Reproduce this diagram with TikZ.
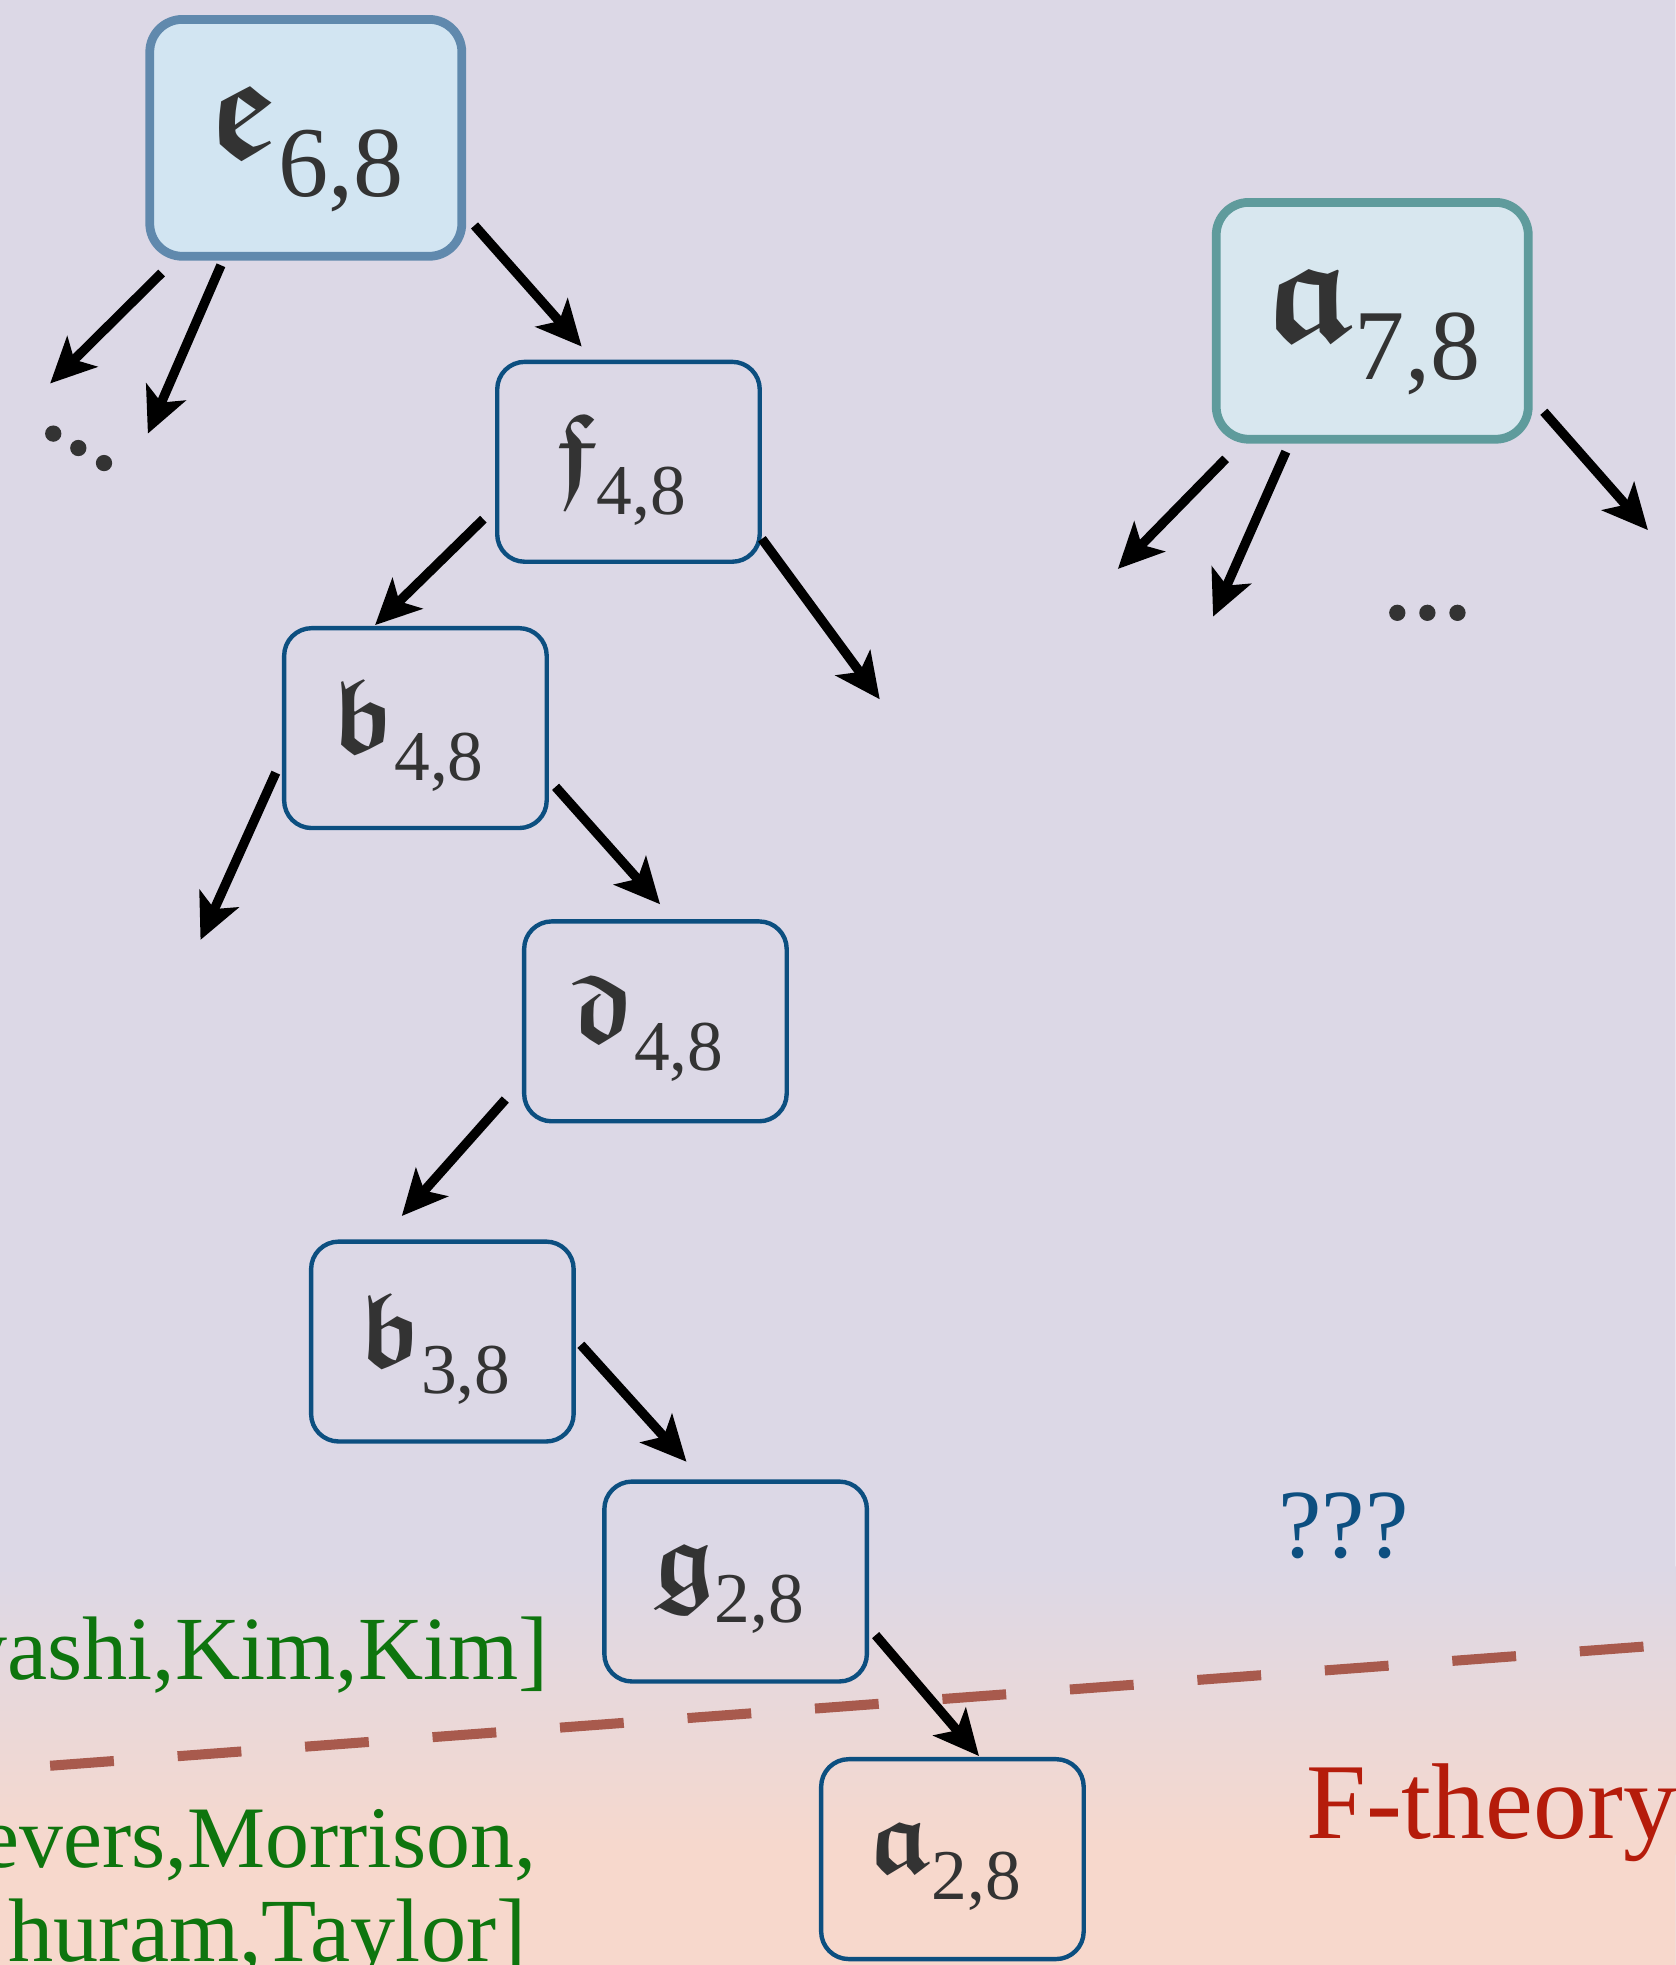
\documentclass[tikz,border=0pt]{standalone}
\usepackage{fontspec}
\setmainfont{Liberation Serif}
\usetikzlibrary{arrows.meta}

% bold Fraktur at any size
\DeclareFontFamily{U}{frkb}{}
\DeclareFontShape{U}{frkb}{m}{n}{<->eufb10}{}
% label = Fraktur letter + lowered index; the whole label is nudged inside its box
\newcommand\frkbig[2]{\raisebox{-9pt}[\height][\depth]{{\fontsize{120}{120}\usefont{U}{frkb}{m}{n}#1}\raisebox{-31pt}{\fontsize{80}{80}\selectfont#2}}}
\newcommand\frksmall[2]{\raisebox{-6pt}[\height][\depth]{\hspace*{-6pt}{\fontsize{84}{84}\usefont{U}{frkb}{m}{n}#1}\raisebox{-22pt}{\fontsize{57}{57}\selectfont#2}\hspace*{6pt}}}

\definecolor{bglav}{HTML}{DCD8E6}
\definecolor{bgpeach}{HTML}{F7D8CC}
\definecolor{topblue}{HTML}{6089AD}
\definecolor{topbluefill}{HTML}{D2E5F2}
\definecolor{topteal}{HTML}{5F9B9C}
\definecolor{toptealfill}{HTML}{D8E7EF}
\definecolor{boxblue}{HTML}{0C4F80}
\definecolor{labelgray}{HTML}{333333}
\definecolor{cutline}{HTML}{A85A4D}
\definecolor{citegreen}{HTML}{0E750E}
\definecolor{ftheory}{HTML}{B51C0B}
\definecolor{qblue}{HTML}{0D4F80}

\begin{document}
\begin{tikzpicture}[x=1pt,y=-1pt,
  bigbox/.style={draw, line width=7pt, rounded corners=26pt,
    minimum width=249pt, minimum height=189pt, text=labelgray, inner sep=0pt},
  smallbox/.style={draw=boxblue, line width=3.5pt, rounded corners=22pt,
    minimum width=209.5pt, minimum height=159.5pt, text=labelgray, inner sep=0pt},
  arr/.style={line width=7.5pt, black,
    -{Stealth[length=36pt, width=34pt, inset=9pt]}},
  dot/.style={fill=labelgray, draw=none, circle, minimum size=13pt, inner sep=0pt},
  cite/.style={text=citegreen, font=\fontsize{72}{76}\selectfont, inner sep=0pt}
]
\path[use as bounding box] (0,0) rectangle (1337,1568);
\clip (0,0) rectangle (1337,1568);

% background
\fill[bglav] (0,0) rectangle (1337,1568);
\shade[top color=bglav, bottom color=bgpeach] (0,1250) rectangle (1337,1480);
\fill[bgpeach] (0,1479) rectangle (1337,1568);

% boundary line
\draw[cutline, line width=8pt, dash pattern=on 51pt off 51pt] (40,1409) -- (1337,1312);

% nodes
\node[bigbox, draw=topblue, fill=topbluefill] (e) at (244,110) {\frkbig{e}{6,8}};
\node[bigbox, draw=topteal, fill=toptealfill] (a7) at (1095,256) {\frkbig{a}{7,8}};
\node[smallbox] (f)  at (501.5,368.5) {\frksmall{f}{4,8}};
\node[smallbox] (b4) at (331.5,581)   {\frksmall{b}{4,8}};
\node[smallbox] (d)  at (523,815)     {\frksmall{d}{4,8}};
\node[smallbox] (b3) at (353,1070.5)  {\frksmall{b}{3,8}};
\node[smallbox] (g)  at (587,1262)    {\frksmall{g}{2,8}};
\node[smallbox] (a2) at (760,1483.5)  {\frksmall{a}{2,8}};

% open ends
\coordinate (eL) at (40,306);
\coordinate (eD) at (118,346);
\coordinate (fR) at (702,558);
\coordinate (bL) at (160,750);
\coordinate (aL) at (892,454);
\coordinate (aD) at (968,492);
\coordinate (aR) at (1315,423);

% arrows
\draw[arr, shorten <=14pt] (e.223) -- (eL);
\draw[arr, shorten <=4pt] (e.236) -- (eD);
\draw[arr, shorten <=10pt, shorten >=14pt] (e.-26) -- (f.109);
\draw[arr, shorten <=13pt, shorten >=1pt] (f.199) -- (b4.112);
\draw[arr] (f.-30.5) -- (fR);
\draw[arr, shorten <=12pt] (b4.193) -- (bL);
\draw[arr, shorten <=8pt, shorten >=16pt] (b4.-21) -- (d.80.5);
\draw[arr, shorten <=20pt, shorten >=25pt] (d.204) -- (b3.121.5);
\draw[arr, shorten <=6pt, shorten >=19pt] (b3.1) -- (g.108);
\draw[arr, shorten <=8pt, shorten >=1pt] (g.-19) -- (a2.75);
\draw[arr, shorten <=17pt] (a7.223.6) -- (aL);
\draw[arr, shorten <=7pt] (a7.236.3) -- (aD);
\draw[arr, shorten <=13.5pt] (a7.-26.6) -- (aR);

% ellipses
\node[dot] (l1) at (42.5,346) {};
\node[dot] (l2) at (62.5,357.5) {};
\node[dot] (l3) at (83,369.5) {};
\node[dot] (r1) at (1115,489) {};
\node[dot] (r2) at (1139,489) {};
\node[dot] (r3) at (1163,489) {};

% labels
\node[cite, anchor=base east] (c1) at (438,1340) {yashi,Kim,Kim]};
\node[cite, font=\fontsize{70}{74}\selectfont, anchor=base east] (c2) at (428,1490) {evers,Morrison,};
\node[cite, anchor=base east] (c3) at (420,1565) {huram,Taylor]};
\node[text=qblue, font=\fontsize{78}{78}\selectfont, inner sep=0pt, anchor=base west] (q) at (1020,1243) {???};
\node[text=ftheory, font=\fontsize{86}{86}\selectfont, inner sep=0pt, anchor=base west] (ft) at (1042,1467) {F-theory};
\end{tikzpicture}
\end{document}
